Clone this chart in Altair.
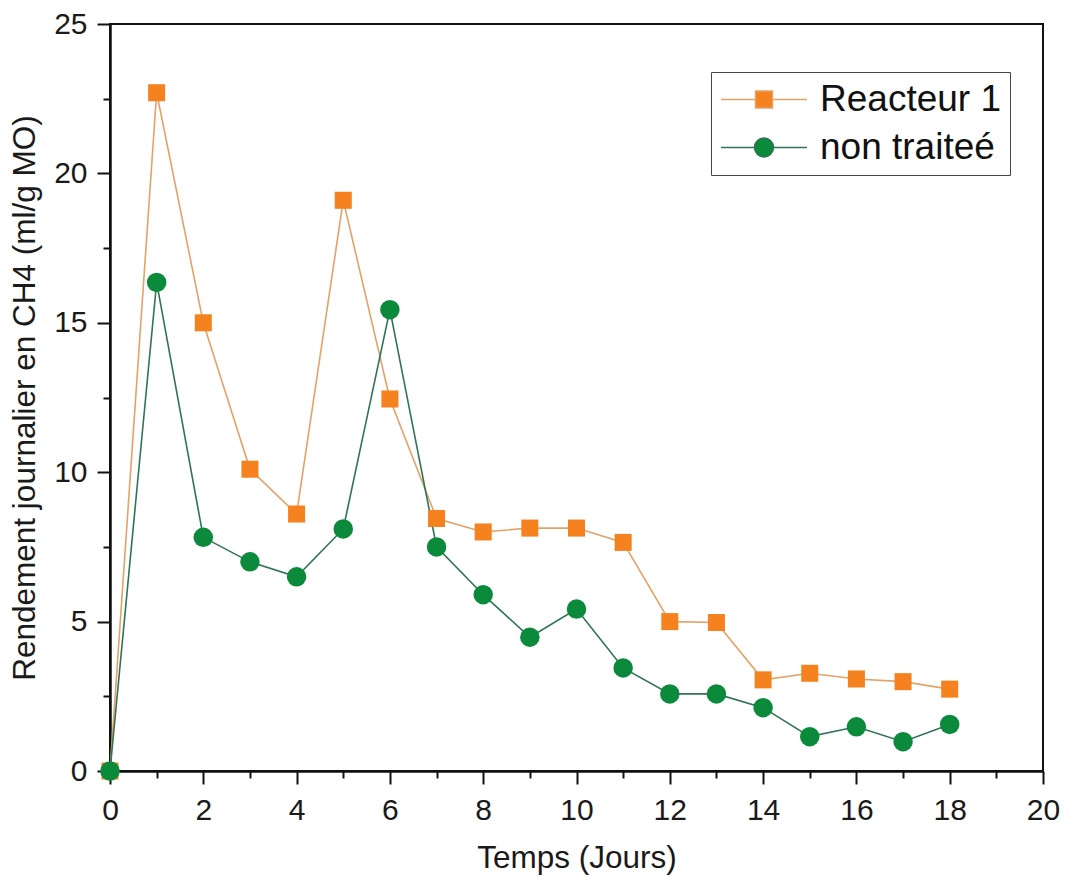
import altair as alt
import pandas as pd

# Daily CH4 yield (ml/g MO) per day of digestion
days = list(range(19))
reacteur_1 = [0, 22.7, 15.0, 10.1, 8.6, 19.1, 12.45, 8.45, 8.0, 8.13, 8.13,
              7.65, 5.0, 4.97, 3.05, 3.27, 3.08, 2.99, 2.74]
non_traitee = [0, 16.35, 7.82, 7.0, 6.5, 8.1, 15.44, 7.5, 5.9, 4.48, 5.42,
               3.45, 2.58, 2.58, 2.12, 1.15, 1.48, 0.98, 1.56]
series_names = ["Reacteur 1", "non traiteé"]

x_ticks = list(range(0, 21, 2))
x_minor = list(range(1, 20, 2))
y_ticks = [0, 5, 10, 15, 20, 25]
y_minor = [2.5, 7.5, 12.5, 17.5, 22.5]

marker_colors = ["#F5821F", "#0B8A3B"]
line_colors = ["#E4A267", "#2F7456"]

# legend glyphs: a line segment with the marker in its middle
# (unit = half of the legend symbol box; the line runs to the right of it)
legend_shapes = [
    "M-1,0H0.971M1.943,0H3.914M0.971,-0.486H1.943V0.486H0.971Z",
    "M-1,0H0.914M2,0H3.914M2,0A0.543,0.543,0,1,1,0.914,0A0.543,0.543,0,1,1,2,0Z",
]

rows = []
for name, values in zip(series_names, [reacteur_1, non_traitee]):
    for d, v in zip(days, values):
        rows.append({"jour": d, "rendement": v, "serie": name})
df = pd.DataFrame(rows)

FONT = "Liberation Sans"

x_scale = alt.Scale(domain=[0, 20], nice=False, zero=False)
y_scale = alt.Scale(domain=[0, 25], nice=False, zero=False)

x_main = alt.X("jour:Q", scale=x_scale,
               axis=alt.Axis(values=x_ticks, orient="bottom", title="Temps (Jours)",
                             tickSize=13, labelPadding=11, titlePadding=17,
                             format="d", labelFlush=False, labelOverlap=False))
y_main = alt.Y("rendement:Q", scale=y_scale,
               axis=alt.Axis(values=y_ticks, orient="left",
                             title="Rendement journalier en CH4 (ml/g MO)",
                             tickSize=13, labelPadding=10, titlePadding=12,
                             format="d", labelFlush=False, labelOverlap=False))
x_plain = alt.X("jour:Q", scale=x_scale, axis=None)
y_plain = alt.Y("rendement:Q", scale=y_scale, axis=None)

legend_def = alt.Legend(orient="none", legendX=601, legendY=48, title=None,
                        strokeColor="#444444", fillColor="white", padding=9,
                        labelFont=FONT, labelFontSize=37, labelColor="#111111",
                        labelLimit=600, labelOffset=63, rowPadding=10,
                        symbolSize=1225, symbolStrokeWidth=1.5)

stroke_enc = alt.Stroke("serie:N", scale=alt.Scale(domain=series_names, range=line_colors),
                        legend=legend_def)
fill_enc = alt.Fill("serie:N", scale=alt.Scale(domain=series_names, range=marker_colors),
                    legend=legend_def)

base = alt.Chart(df)

lines = base.mark_line(strokeWidth=1.6).encode(x=x_main, y=y_main, stroke=stroke_enc)

squares = base.transform_filter(alt.datum.serie == series_names[0]).mark_point(
    shape="square", filled=True, size=290, opacity=1
).encode(x=x_plain, y=y_plain, fill=fill_enc)

circles = base.transform_filter(alt.datum.serie == series_names[1]).mark_point(
    shape="circle", filled=True, size=380, opacity=1
).encode(x=x_plain, y=y_plain, fill=fill_enc)

# minor ticks on both axes
minor = base.mark_point(opacity=0).encode(
    x=alt.X("jour:Q", scale=x_scale,
            axis=alt.Axis(values=x_minor, orient="bottom", labels=False, domain=False,
                          tickSize=7, title=None, grid=False)),
    y=alt.Y("rendement:Q", scale=y_scale,
            axis=alt.Axis(values=y_minor, orient="left", labels=False, domain=False,
                          tickSize=7, title=None, grid=False)),
)

legend_layer = base.transform_filter("false").mark_point(filled=True, strokeWidth=1.5, opacity=1).encode(
    x=x_plain, y=y_plain, fill=fill_enc, stroke=stroke_enc,
    shape=alt.Shape("serie:N", scale=alt.Scale(domain=series_names, range=legend_shapes),
                    legend=legend_def),
)

chart = alt.layer(lines, squares, circles, minor, legend_layer).resolve_axis(
    x="independent", y="independent"
).properties(
    width=933, height=747, autosize="none",
    padding={"left": 110, "top": 24, "right": 23, "bottom": 110},
).configure_axis(
    labelFont=FONT, labelFontSize=30, labelColor="#1a1a1a",
    titleFont=FONT, titleFontSize=31.5, titleFontWeight="normal", titleColor="#1a1a1a",
    domainColor="#111111", domainWidth=2.5, tickColor="#111111", tickWidth=2, grid=False,
).configure_view(stroke="#111111", strokeWidth=2)

chart.save("out.html", embed_options={"renderer": "svg", "actions": False})
